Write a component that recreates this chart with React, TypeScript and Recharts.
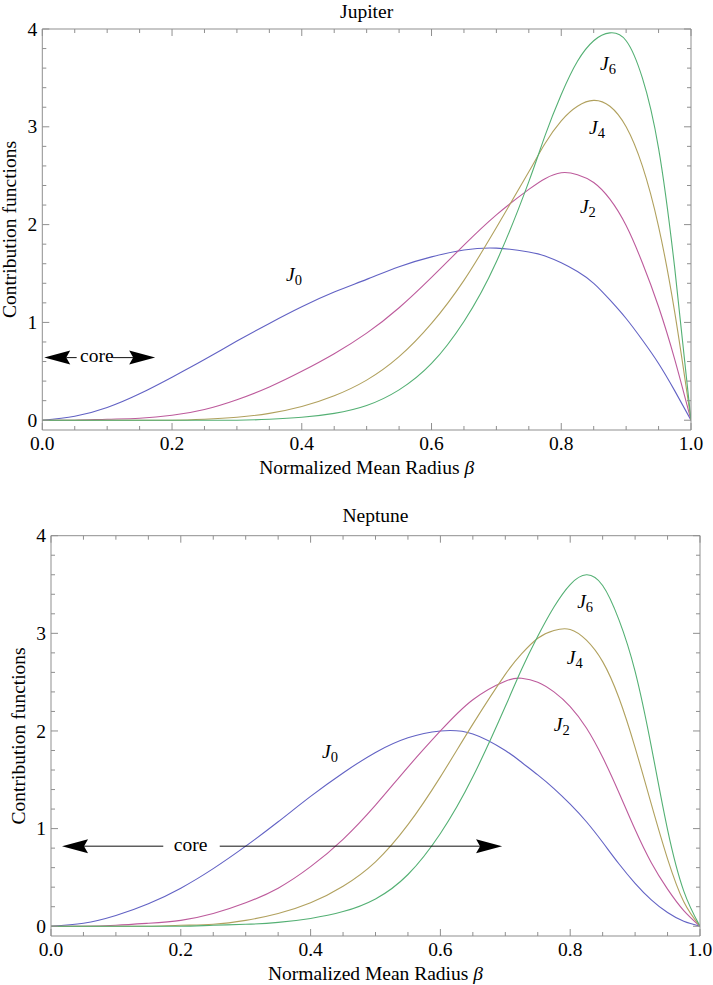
import { LineChart, Line, XAxis, YAxis, ReferenceLine, ReferenceDot } from "recharts";

const serif = '"Liberation Serif", "Times New Roman", Times, serif';
const frameColor = "#8f8f8f";
const lineColors = { j0: "#6262c4", j2: "#bd5b9c", j4: "#b1a15e", j6: "#54b074" };

const xTicks = [0, 0.05, 0.1, 0.15, 0.2, 0.25, 0.3, 0.35, 0.4, 0.45, 0.5, 0.55, 0.6, 0.65, 0.7, 0.75, 0.8, 0.85, 0.9, 0.95, 1];
const yTicks = [0, 0.2, 0.4, 0.6, 0.8, 1, 1.2, 1.4, 1.6, 1.8, 2, 2.2, 2.4, 2.6, 2.8, 3, 3.2, 3.4, 3.6, 3.8, 4];

// Jupiter
const jupiterBeta = [0, 0.05, 0.1, 0.15, 0.2, 0.25, 0.3, 0.35, 0.4, 0.45, 0.5, 0.55, 0.6, 0.65, 0.7, 0.75, 0.775, 0.8, 0.825, 0.85, 0.875, 0.9, 0.925, 0.95, 0.975, 1];
const jupiterJ0 = [0, 0.04, 0.13, 0.27, 0.44, 0.62, 0.81, 0.99, 1.16, 1.31, 1.44, 1.57, 1.67, 1.74, 1.76, 1.72, 1.68, 1.61, 1.52, 1.4, 1.23, 1.04, 0.82, 0.58, 0.3, 0];
const jupiterJ2 = [0, 0, 0.01, 0.02, 0.05, 0.11, 0.21, 0.34, 0.5, 0.68, 0.89, 1.15, 1.46, 1.79, 2.1, 2.36, 2.47, 2.53, 2.51, 2.43, 2.26, 1.99, 1.61, 1.16, 0.62, 0];
const jupiterJ4 = [0, 0, 0, 0, 0, 0.01, 0.03, 0.07, 0.14, 0.25, 0.41, 0.65, 0.99, 1.43, 1.97, 2.54, 2.83, 3.06, 3.21, 3.27, 3.21, 3.0, 2.6, 1.98, 1.1, 0];
const jupiterJ6 = [0, 0, 0, 0, 0, 0, 0, 0.01, 0.03, 0.07, 0.15, 0.31, 0.58, 1.01, 1.62, 2.44, 2.91, 3.33, 3.67, 3.88, 3.96, 3.88, 3.5, 2.78, 1.55, 0];
const jupiterLabels = [
  { sub: "0", beta: 0.388, value: 1.48 },
  { sub: "2", beta: 0.841, value: 2.18 },
  { sub: "4", beta: 0.855, value: 2.99 },
  { sub: "6", beta: 0.872, value: 3.64 },
];
const jupiterCore = { value: 0.64, leftTip: 0.003, leftEnd: 0.053, rightStart: 0.109, rightTip: 0.174, text: 0.084 };

// Neptune
const neptuneBeta = [0, 0.05, 0.1, 0.15, 0.2, 0.25, 0.3, 0.35, 0.4, 0.45, 0.5, 0.55, 0.6, 0.65, 0.7, 0.725, 0.75, 0.775, 0.8, 0.825, 0.85, 0.875, 0.9, 0.925, 0.95, 0.975, 1];
const neptuneJ0 = [0, 0.03, 0.11, 0.23, 0.39, 0.59, 0.82, 1.07, 1.33, 1.57, 1.78, 1.93, 2.0, 1.97, 1.8, 1.68, 1.55, 1.41, 1.25, 1.07, 0.86, 0.64, 0.44, 0.27, 0.14, 0.05, 0];
const neptuneJ2 = [0, 0, 0.01, 0.03, 0.06, 0.13, 0.24, 0.39, 0.61, 0.89, 1.24, 1.63, 2.0, 2.32, 2.51, 2.54, 2.5, 2.4, 2.25, 2.03, 1.73, 1.37, 0.99, 0.65, 0.38, 0.16, 0];
const neptuneJ4 = [0, 0, 0, 0, 0.01, 0.02, 0.06, 0.13, 0.24, 0.41, 0.66, 1.04, 1.53, 2.07, 2.58, 2.79, 2.95, 3.03, 3.04, 2.93, 2.71, 2.34, 1.83, 1.25, 0.69, 0.25, 0];
const neptuneJ6 = [0, 0, 0, 0, 0, 0.01, 0.02, 0.04, 0.08, 0.15, 0.28, 0.53, 0.95, 1.53, 2.25, 2.63, 2.97, 3.27, 3.5, 3.6, 3.49, 3.14, 2.61, 1.84, 0.99, 0.36, 0];
const neptuneLabels = [
  { sub: "0", beta: 0.43, value: 1.78 },
  { sub: "2", beta: 0.787, value: 2.06 },
  { sub: "4", beta: 0.807, value: 2.75 },
  { sub: "6", beta: 0.823, value: 3.32 },
];
const neptuneCore = { value: 0.82, leftTip: 0.017, leftEnd: 0.173, rightStart: 0.26, rightTip: 0.695, text: 0.215 };

function buildRows(beta: number[], j0: number[], j2: number[], j4: number[], j6: number[]) {
  return beta.map((b, i) => ({ beta: b, j0: j0[i], j2: j2[i], j4: j4[i], j6: j6[i] }));
}

const isMajor = (v: number, step: number) => Math.abs(v / step - Math.round(v / step)) < 1e-6;

const textStyle = { fontFamily: serif, fontSize: 19.5, fill: "#000" };

const bottomTick = (p: any) => {
  const v = p.payload.value;
  const major = isMajor(v, 0.2);
  return (
    <g>
      <line x1={p.x} y1={p.y} x2={p.x} y2={p.y - (major ? 7 : 4)} stroke={frameColor} />
      {major && (
        <text x={p.x} y={p.y + 20} textAnchor="middle" style={textStyle}>
          {v.toFixed(1)}
        </text>
      )}
    </g>
  );
};

const topTick = (p: any) => {
  const major = isMajor(p.payload.value, 0.2);
  return <line x1={p.x} y1={p.y} x2={p.x} y2={p.y + (major ? 7 : 4)} stroke={frameColor} />;
};

const leftTick = (p: any) => {
  const v = p.payload.value;
  const major = isMajor(v, 1);
  return (
    <g>
      <line x1={p.x} y1={p.y} x2={p.x + (major ? 7 : 4)} y2={p.y} stroke={frameColor} />
      {major && (
        <text x={p.x - 5} y={p.y} dy="0.34em" textAnchor="end" style={textStyle}>
          {String(Math.round(v))}
        </text>
      )}
    </g>
  );
};

const rightTick = (p: any) => {
  const major = isMajor(p.payload.value, 1);
  return <line x1={p.x} y1={p.y} x2={p.x - (major ? 7 : 4)} y2={p.y} stroke={frameColor} />;
};

// arrowhead sits at (x1, y1), pointing away from (x2, y2)
const arrowShape = (p: any) => {
  const { x1, y1, x2, y2 } = p;
  const dir = x1 < x2 ? -1 : 1;
  const len = 26;
  const half = 7;
  const notch = 4;
  const back = x1 - dir * len;
  const backMid = x1 - dir * (len - notch);
  return (
    <g>
      <line x1={backMid} y1={y1} x2={x2} y2={y2} stroke="#111" strokeWidth={1} />
      <polygon points={`${x1},${y1} ${back},${y1 - half} ${backMid},${y1} ${back},${y1 + half}`} fill="#000" />
    </g>
  );
};

const jLabel = (sub: string) => (p: any) => (
  <text x={p.cx} y={p.cy} dy="0.3em" textAnchor="middle" style={textStyle}>
    <tspan style={{ fontStyle: "italic" }}>J</tspan>
    <tspan style={{ fontSize: 14.5 }} dy={4}>{sub}</tspan>
  </text>
);

const coreText = (p: any) => (
  <text x={p.cx} y={p.cy} dy="0.23em" textAnchor="middle" style={textStyle}>
    core
  </text>
);

type Core = typeof jupiterCore;
type Lbl = { sub: string; beta: number; value: number };

interface PanelProps {
  title: string;
  rows: ReturnType<typeof buildRows>;
  labels: Lbl[];
  core: Core;
  height: number;
  topH: number;
  bottomH: number;
  leftW: number;
  rightW: number;
  titleGap: number;
}

function Panel({ title, rows, labels, core, height, topH, bottomH, leftW, rightW, titleGap }: PanelProps) {
  const titleLabel = (p: any) => {
    const vb = p.viewBox;
    return (
      <text x={vb.x + vb.width / 2} y={vb.y + vb.height - titleGap} textAnchor="middle" style={textStyle}>
        {title}
      </text>
    );
  };
  const xLabel = (p: any) => {
    const vb = p.viewBox;
    return (
      <text x={vb.x + vb.width / 2} y={vb.y + 43.5} textAnchor="middle" style={textStyle}>
        Normalized Mean Radius <tspan style={{ fontStyle: "italic" }}>β</tspan>
      </text>
    );
  };
  const yLabel = (p: any) => {
    const vb = p.viewBox;
    const cx = vb.x + vb.width - 32.5;
    const cy = vb.y + vb.height / 2;
    return (
      <text x={cx} y={cy} dy="0.34em" textAnchor="middle" transform={`rotate(-90 ${cx} ${cy})`} style={textStyle}>
        Contribution functions
      </text>
    );
  };

  return (
    <LineChart width={713} height={height} data={rows} margin={{ top: 0, right: 0, bottom: 0, left: 0 }}>
      <XAxis
        type="number"
        dataKey="beta"
        domain={[0, 1]}
        ticks={xTicks}
        interval={0}
        allowDataOverflow
        height={bottomH}
        tickSize={0}
        tickMargin={0}
        tickLine={false}
        axisLine={{ stroke: frameColor }}
        tick={bottomTick}
        label={xLabel}
      />
      <XAxis
        xAxisId="top"
        orientation="top"
        type="number"
        dataKey="beta"
        domain={[0, 1]}
        ticks={xTicks}
        interval={0}
        allowDataOverflow
        height={topH}
        tickSize={0}
        tickMargin={0}
        tickLine={false}
        axisLine={{ stroke: frameColor }}
        tick={topTick}
        label={titleLabel}
      />
      <YAxis
        type="number"
        domain={[-0.1, 4]}
        ticks={yTicks}
        interval={0}
        allowDataOverflow
        width={leftW}
        tickSize={0}
        tickMargin={0}
        tickLine={false}
        axisLine={{ stroke: frameColor }}
        tick={leftTick}
        label={yLabel}
      />
      <YAxis
        yAxisId="right"
        orientation="right"
        type="number"
        domain={[-0.1, 4]}
        ticks={yTicks}
        interval={0}
        allowDataOverflow
        width={rightW}
        tickSize={0}
        tickMargin={0}
        tickLine={false}
        axisLine={{ stroke: frameColor }}
        tick={rightTick}
      />
      <Line type="natural" dataKey="j0" stroke={lineColors.j0} strokeWidth={1.1} dot={false} isAnimationActive={false} />
      <Line type="natural" dataKey="j2" stroke={lineColors.j2} strokeWidth={1.1} dot={false} isAnimationActive={false} />
      <Line type="natural" dataKey="j4" stroke={lineColors.j4} strokeWidth={1.1} dot={false} isAnimationActive={false} />
      <Line type="natural" dataKey="j6" stroke={lineColors.j6} strokeWidth={1.1} dot={false} isAnimationActive={false} />
      <ReferenceLine
        segment={[{ x: core.leftTip, y: core.value }, { x: core.leftEnd, y: core.value }]}
        shape={arrowShape}
      />
      <ReferenceLine
        segment={[{ x: core.rightTip, y: core.value }, { x: core.rightStart, y: core.value }]}
        shape={arrowShape}
      />
      <ReferenceDot x={core.text} y={core.value} r={0} shape={coreText} />
      {labels.map((l) => (
        <ReferenceDot key={l.sub} x={l.beta} y={l.value} r={0} shape={jLabel(l.sub)} />
      ))}
    </LineChart>
  );
}

export default function App() {
  return (
    <div style={{ width: 713, height: 985, background: "#fff" }}>
      <style>{`body { margin: 0; }`}</style>
      <Panel
        title="Jupiter"
        rows={buildRows(jupiterBeta, jupiterJ0, jupiterJ2, jupiterJ4, jupiterJ6)}
        labels={jupiterLabels}
        core={jupiterCore}
        height={490}
        topH={29}
        bottomH={60}
        leftW={42.3}
        rightW={22}
        titleGap={11}
      />
      <Panel
        title="Neptune"
        rows={buildRows(neptuneBeta, neptuneJ0, neptuneJ2, neptuneJ4, neptuneJ6)}
        labels={neptuneLabels}
        core={neptuneCore}
        height={495}
        topH={45.7}
        bottomH={49}
        leftW={51}
        rightW={13}
        titleGap={14}
      />
    </div>
  );
}
